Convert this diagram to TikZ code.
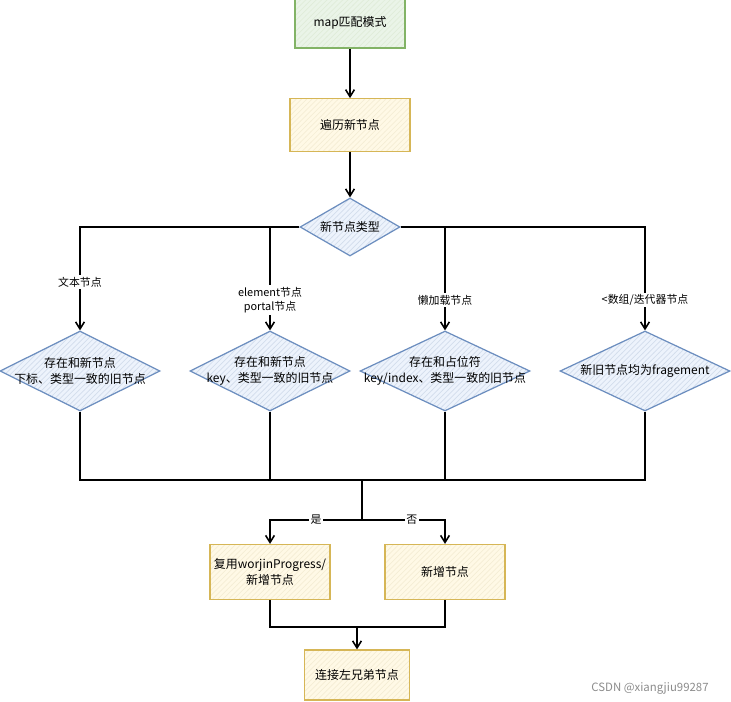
\documentclass[tikz,border=0pt]{standalone}
\usepackage{fontspec}
\setmainfont{Noto Sans CJK SC}
\usetikzlibrary{shapes.geometric,patterns,arrows.meta}
\definecolor{gborder}{HTML}{82B366}
\definecolor{gfill}{HTML}{EAF4E8}
\definecolor{yborder}{HTML}{D6B656}
\definecolor{yfill}{HTML}{FFF9E6}
\definecolor{bborder}{HTML}{6C8EBF}
\definecolor{bfill}{HTML}{EDF3FC}
\tikzset{
  stepbox/.style={draw=yborder, line width=0.7pt, preaction={fill=yfill}, pattern=north east lines, pattern color=yborder!25, minimum width=2.4cm, minimum height=1.05cm, font=\fontsize{6.8}{9}\selectfont},
  startbox/.style={stepbox, draw=gborder, preaction={fill=gfill}, pattern color=gborder!25},
  decision/.style={diamond, draw=bborder, line width=0.7pt, preaction={fill=bfill}, pattern=north east lines, pattern color=bborder!30, inner sep=0pt, minimum width=3.2cm, minimum height=1.6cm},
  dtext/.style={font=\fontsize{6.8}{9}\selectfont, align=center},
  flow/.style={line width=0.9pt},
  edgelabel/.style={fill=white, inner sep=1pt, font=\fontsize{6.2}{8}\selectfont, align=center}
}
\begin{document}
\begin{tikzpicture}[x=0.02cm, y=-0.02cm, >={Straight Barb[length=4pt, width=5pt]}]
  \useasboundingbox (0,0) rectangle (731,701);
  \node(mapmode) at (350,23) [startbox, minimum width=2.2cm, minimum height=1.0cm] {map匹配模式};
  \node(traverse) at (350,125) [stepbox] {遍历新节点};
  \node(ntype) at (350,227) [decision, minimum width=2cm, minimum height=1.16cm] {};
  \node at (ntype) [dtext] {新节点类型};

  \node(d1) at (80,371) [decision] {};
  \node at (d1) [dtext] {存在和新节点\\下标、类型一致的旧节点};
  \node(d2) at (270,371) [decision] {};
  \node at (d2) [dtext] {存在和新节点\\key、类型一致的旧节点};
  \node(d3) at (445,371) [decision, minimum width=3.4cm] {};
  \node at (d3) [dtext] {存在和占位符\\key/index、类型一致的旧节点};
  \node(d4) at (645,371) [decision, minimum width=3.4cm] {};
  \node at (d4) [dtext] {新旧节点均为fragement};

  \node(reuse) at (270,572) [stepbox, minimum height=1.1cm] {};
  \node at (reuse) [dtext] {复用worjinProgress/\\新增节点};
  \node(addnew) at (445,572) [stepbox, minimum height=1.1cm] {新增节点};
  \node(link) at (357,675) [stepbox, minimum width=2.1cm, minimum height=1.0cm] {连接左兄弟节点};

  \coordinate(merge) at (362,480);
  \coordinate(split) at (362,520);
  \coordinate(join) at (357,627);

  \draw[->, flow] (mapmode) -- (traverse);
  \draw[->, flow] (traverse) -- (ntype);
  \draw[->, flow] (ntype.west) -| (d1.north);
  \draw[->, flow] (ntype.west) -| (d2.north);
  \draw[->, flow] (ntype.east) -| (d3.north);
  \draw[->, flow] (ntype.east) -| (d4.north);

  \node(lbl1) at (80,282) [edgelabel] {文本节点};
  \node(lbl2) at (270,300) [edgelabel] {element节点\\portal节点};
  \node(lbl3) at (445,300) [edgelabel] {懒加载节点};
  \node(lbl4) at (645,300) [edgelabel] {<数组/迭代器节点};

  \draw[flow] (d1.south) |- (merge);
  \draw[flow] (d2.south) |- (merge);
  \draw[flow] (d3.south) |- (merge);
  \draw[flow] (d4.south) |- (merge);
  \draw[flow] (merge) -- (split);
  \draw[->, flow] (split) -| node[edgelabel, pos=0.25] {是} (reuse.north);
  \draw[->, flow] (split) -| node[edgelabel, pos=0.3] {否} (addnew.north);

  \draw[flow] (reuse.south) |- (join);
  \draw[flow] (addnew.south) |- (join);
  \draw[->, flow] (join) -- (link);

  \node(mark) at (650,688) [font=\fontsize{6.5}{8}\selectfont, text=black!45] {CSDN @xiangjiu99287};
\end{tikzpicture}
\end{document}
